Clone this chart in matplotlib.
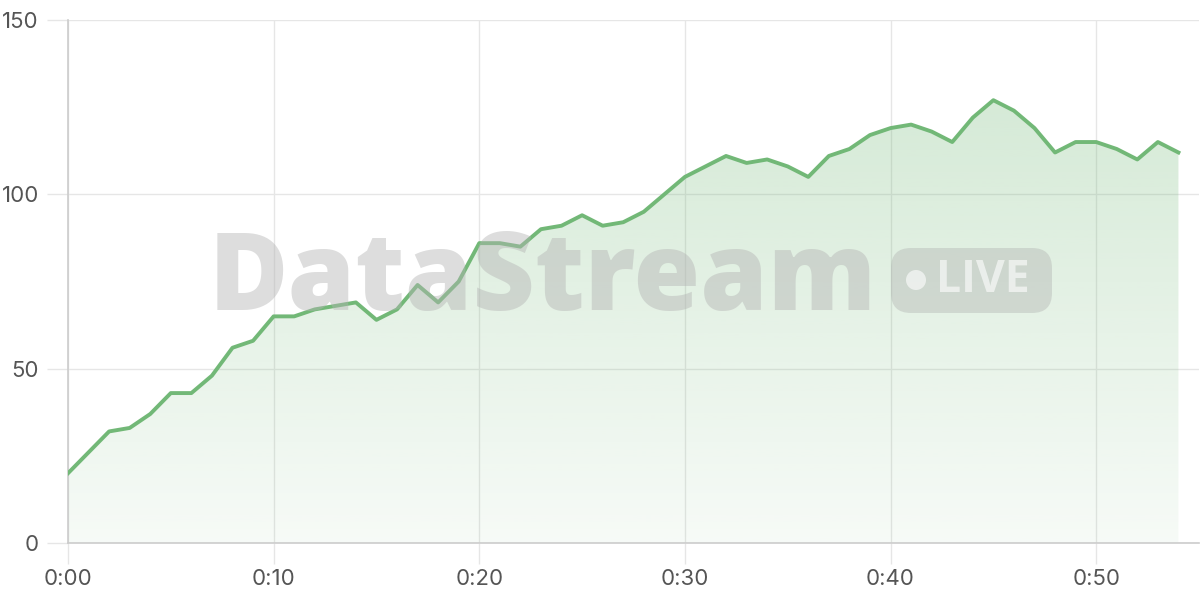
import matplotlib.pyplot as plt
import numpy as np
from matplotlib.patches import FancyBboxPatch, Circle
from matplotlib.transforms import IdentityTransform

# minutes since start, one sample per minute
minutes = list(range(55))
values = [20, 26, 32, 33, 37, 43, 43, 48, 56, 58,
          65, 65, 67, 68, 69, 64, 67, 74, 69, 75,
          86, 86, 85, 90, 91, 94, 91, 92, 95, 100,
          105, 108, 111, 109, 110, 108, 105, 111, 113, 117,
          119, 120, 118, 115, 122, 127, 124, 119, 112, 115,
          115, 113, 110, 115, 112]
x_ticks = [0, 10, 20, 30, 40, 50]
x_labels = ['0:00', '0:10', '0:20', '0:30', '0:40', '0:50']
y_ticks = [0, 50, 100, 150]

line_color = '#72b877'
grid_color = '#e6e6e6'
text_color = '#555555'

plt.rcParams['font.family'] = ['Inter', 'DejaVu Sans']

W, H = 1200, 600
fig = plt.figure(figsize=(12, 6), dpi=100)
ax = fig.add_axes([68 / W, 1 - 543 / H, (1199 - 68) / W, (543 - 20) / H])
ax.set_xlim(0, 55)
ax.set_ylim(0, 150)

# gradient fill under the line
xs = np.array(minutes, dtype=float)
ys = np.array(values, dtype=float)
grad = np.linspace(0, 1, 256).reshape(-1, 1)
rgba = np.zeros((256, 1, 4))
rgba[..., 0] = 0x72 / 255
rgba[..., 1] = 0xb8 / 255
rgba[..., 2] = 0x77 / 255
rgba[..., 3] = 0.06 + 0.28 * grad
img = ax.imshow(rgba, extent=[0, 55, 0, 150], origin='lower', aspect='auto', zorder=2)
clip = plt.Polygon(np.column_stack([np.r_[xs, xs[::-1]], np.r_[ys, np.zeros_like(ys)]]),
                   transform=ax.transData, facecolor='none', edgecolor='none')
ax.add_patch(clip)
img.set_clip_path(clip)

# watermark (pixel coordinates, origin at bottom-left)
fig.text(209 / W, 1 - 282 / H, 'DataStream', fontsize=78, fontweight=800,
         color='#b4b4b4', alpha=0.45, va='center', ha='left', zorder=3,
         family=['Open Sans', 'DejaVu Sans'])
pill = FancyBboxPatch((891, H - 313), 1052 - 891, 313 - 248,
                      boxstyle='round,pad=0,rounding_size=20', transform=IdentityTransform(),
                      facecolor='#a8a8a8', edgecolor='none', alpha=0.35, zorder=3)
fig.add_artist(pill)
fig.add_artist(Circle((916, H - 280), 10, transform=IdentityTransform(),
                      facecolor='white', alpha=0.6, edgecolor='none', zorder=4))
fig.text(936 / W, 1 - 281 / H, 'LIVE', fontsize=32, fontweight='bold',
         color='white', alpha=0.6, va='center', ha='left', zorder=4,
         family=['Open Sans', 'DejaVu Sans'])

ax.plot(xs, ys, color=line_color, lw=2.8, zorder=5)

ax.set_xticks(x_ticks)
ax.set_xticklabels(x_labels)
ax.set_yticks(y_ticks)
ax.grid(True, color=grid_color, lw=1, zorder=0)
ax.set_axisbelow(True)
for s in ['top', 'right']:
    ax.spines[s].set_visible(False)
for s in ['left', 'bottom']:
    ax.spines[s].set_color('#cccccc')
    ax.spines[s].set_linewidth(1.2)
ax.tick_params(axis='both', colors=grid_color, length=15, width=1, labelsize=16,
               labelcolor=text_color)
ax.tick_params(axis='x', pad=4)
ax.tick_params(axis='y', pad=6)

fig.savefig('out.png', dpi=100)
